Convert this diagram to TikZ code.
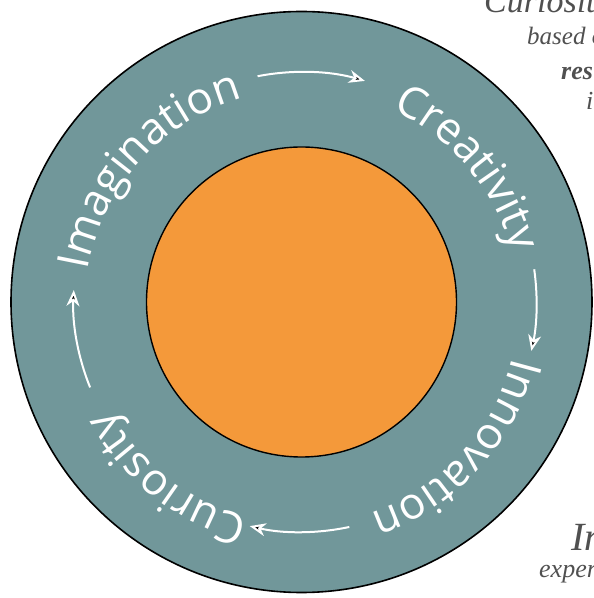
\documentclass[tikz,border=0pt]{standalone}
\usepackage{fontspec}
\setmainfont{Liberation Serif}
\newfontfamily\ringfont[LetterSpace=8]{Open Sans}
\usepackage{tikz}
\usetikzlibrary{calc}
\usetikzlibrary{arrows.meta}
\usetikzlibrary{decorations.text}
\definecolor{ringgray}{HTML}{71979A}
\definecolor{coreorange}{HTML}{F4993A}
\definecolor{pagegray}{HTML}{505050}
\tikzset{
  ringword/.style={decorate, decoration={text along path, text align=center, text color=white,
    text={|\ringfont\fontsize{44}{44}\selectfont|#1}}},
  ringarrow/.style={draw=white, line width=2pt, -{Stealth[length=16pt,width=13pt,inset=5pt]}},
  pagetext/.style={anchor=base west, inner sep=0pt, text=pagegray},
}

\begin{document}
\begin{tikzpicture}[x=1pt,y=1pt,>=latex]
\useasboundingbox (0,0) rectangle (594,598);
\clip (0,0) rectangle (594,598);
\coordinate (center) at (301.5,296);
\coordinate (words) at (301.5,291);
\node[name=ring, circle, draw=black, line width=1.6pt, fill=ringgray, minimum size=581pt, inner sep=0pt] at (center) {};
\node[name=core, circle, draw=black, line width=1.4pt, fill=coreorange, minimum size=310pt, inner sep=0pt] at (center) {};

\path[ringword=Imagination] ($(words)+(188:217pt)$) arc[start angle=188, end angle=88, radius=217pt];
\path[ringword=Creativity] ($(words)+(90:217pt)$) arc[start angle=90, end angle=-10, radius=217pt];
\path[ringword=Innovation] ($(words)+(7.5:217pt)$) arc[start angle=7.5, end angle=-92.5, radius=217pt];
\path[ringword=Curiosity] ($(words)+(-78:217pt)$) arc[start angle=-78, end angle=-178, radius=217pt];

\coordinate (imag_out) at ($(center)+(101:230pt)$);
\coordinate (crea_out) at ($(center)+(8:235pt)$);
\coordinate (inno_out) at ($(center)+(-78:230pt)$);
\coordinate (curi_out) at ($(center)+(202:228pt)$);
\draw[ringarrow] (imag_out) arc[start angle=101, end angle=74, radius=230pt];
\draw[ringarrow] (crea_out) arc[start angle=8, end angle=-12, radius=235pt];
\draw[ringarrow] (inno_out) arc[start angle=-78, end angle=-103, radius=230pt];
\draw[ringarrow] (curi_out) arc[start angle=202, end angle=177, radius=228pt];

\node[name=side_curiosity, pagetext, font=\itshape\fontsize{34}{34}\selectfont] at (484,585) {Curiosit};
\node[name=side_based, pagetext, font=\itshape\fontsize{25}{25}\selectfont] at (527,553) {based o};
\node[name=side_res, pagetext, font=\bfseries\itshape\fontsize{26}{26}\selectfont] at (561,518) {res};
\node[name=side_i, pagetext, font=\itshape\fontsize{26}{26}\selectfont] at (586,488) {i};
\node[name=side_in, pagetext, font=\itshape\fontsize{40}{40}\selectfont] at (571,47) {In};
\node[name=side_exper, pagetext, font=\itshape\fontsize{26}{26}\selectfont] at (539,20) {exper};
\end{tikzpicture}
\end{document}
